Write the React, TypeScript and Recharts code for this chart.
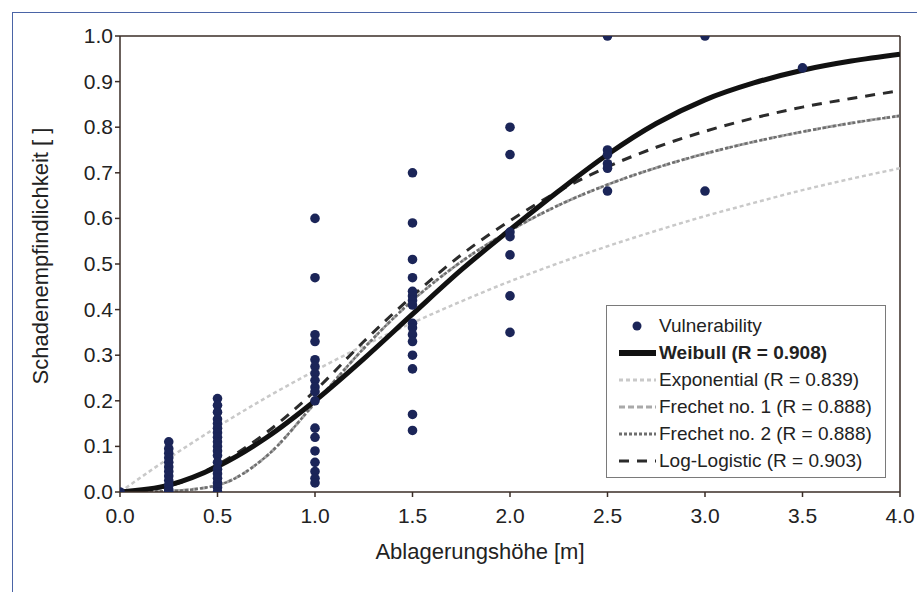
import { ComposedChart, Line, Scatter, XAxis, YAxis, ReferenceLine, Label } from 'recharts';

// Ablagerungshöhe sample points for the fitted curves
const curveX = [0, 0.25, 0.5, 0.75, 1, 1.25, 1.5, 1.75, 2, 2.25, 2.5, 2.75, 3, 3.25, 3.5, 3.75, 4];
const weibull = [0, 0.015, 0.056, 0.119, 0.2, 0.292, 0.39, 0.487, 0.575, 0.66, 0.74, 0.808, 0.86, 0.897, 0.925, 0.945, 0.96];
const exponential = [0, 0.074, 0.143, 0.207, 0.266, 0.321, 0.371, 0.418, 0.462, 0.502, 0.539, 0.573, 0.605, 0.634, 0.662, 0.687, 0.71];
const frechet1 = [0, 0.002, 0.015, 0.078, 0.195, 0.315, 0.42, 0.505, 0.573, 0.629, 0.674, 0.711, 0.742, 0.768, 0.79, 0.809, 0.825];
const frechet2 = [0, 0.002, 0.015, 0.078, 0.195, 0.315, 0.42, 0.505, 0.573, 0.629, 0.674, 0.711, 0.742, 0.768, 0.79, 0.809, 0.825];
const logLogistic = [0, 0.013, 0.06, 0.13, 0.222, 0.33, 0.43, 0.52, 0.595, 0.66, 0.713, 0.756, 0.791, 0.82, 0.844, 0.863, 0.88];

// observed vulnerability, grouped by deposit height
const obsHeights = [0, 0.25, 0.5, 1, 1.5, 2, 2.5, 3, 3.5];
const obsValues = [
  [0],
  [0.11, 0.095, 0.085, 0.075, 0.065, 0.055, 0.045, 0.035, 0.025, 0.015, 0.005, 0],
  [0.205, 0.19, 0.175, 0.16, 0.15, 0.14, 0.13, 0.12, 0.11, 0.1, 0.09, 0.08, 0.065, 0.05, 0.04, 0.03, 0.02, 0.01, 0],
  [0.6, 0.47, 0.345, 0.33, 0.29, 0.275, 0.26, 0.245, 0.23, 0.22, 0.2, 0.14, 0.12, 0.09, 0.065, 0.045, 0.03, 0.02],
  [0.7, 0.59, 0.51, 0.47, 0.44, 0.43, 0.42, 0.41, 0.37, 0.36, 0.345, 0.33, 0.3, 0.27, 0.17, 0.135],
  [0.8, 0.74, 0.57, 0.56, 0.52, 0.43, 0.35],
  [1, 0.75, 0.74, 0.72, 0.71, 0.66],
  [1, 0.66],
  [0.93],
];

const xTicks = [0, 0.5, 1, 1.5, 2, 2.5, 3, 3.5, 4];
const yTicks = [0, 0.1, 0.2, 0.3, 0.4, 0.5, 0.6, 0.7, 0.8, 0.9, 1];

const series = [
  { key: 'exponential', name: 'Exponential (R = 0.839)', color: '#c9c9c9', width: 2.5, dash: '4 3', bold: false },
  { key: 'frechet1', name: 'Frechet no. 1 (R = 0.888)', color: '#a9a9a9', width: 3, dash: '6 3', bold: false },
  { key: 'frechet2', name: 'Frechet no. 2 (R = 0.888)', color: '#6e6e6e', width: 2.5, dash: '3 2', bold: false },
  { key: 'logLogistic', name: 'Log-Logistic (R = 0.903)', color: '#2b2b2b', width: 3, dash: '10 8', bold: false },
  { key: 'weibull', name: 'Weibull (R = 0.908)', color: '#111111', width: 5, dash: undefined, bold: true },
];

const curveData = curveX.map((x, i) => ({
  x,
  weibull: weibull[i],
  exponential: exponential[i],
  frechet1: frechet1[i],
  frechet2: frechet2[i],
  logLogistic: logLogistic[i],
}));

const obsData = obsHeights.flatMap((x, i) => obsValues[i].map(y => ({ x, y })));

const font = '"Liberation Sans", Arial, sans-serif';
const navy = '#1b2558';
const tickColor = '#222';

const legendOrder = ['weibull', 'exponential', 'frechet1', 'frechet2', 'logLogistic'];

const renderXTick = (props: any) => (
  <text x={props.x} y={props.y} dy={24} textAnchor="middle" fontSize={21} fill={tickColor} fontFamily={font}>
    {Number(props.payload.value).toFixed(1)}
  </text>
);

const renderYTick = (props: any) => (
  <text x={props.x} y={props.y} dy={7} textAnchor="end" fontSize={21} fill={tickColor} fontFamily={font}>
    {Number(props.payload.value).toFixed(1)}
  </text>
);

function ChartLegend() {
  return (
    <div
      style={{
        position: 'absolute',
        left: 606,
        top: 305,
        width: 280,
        height: 173,
        border: '1px solid #7a7a7a',
        background: '#fff',
        fontFamily: font,
        fontSize: 19,
        color: '#222',
        boxSizing: 'border-box',
        paddingTop: 6,
        whiteSpace: 'nowrap',
      }}
    >
      <div style={{ height: 27, display: 'flex', alignItems: 'center' }}>
        <svg width={48} height={12} style={{ marginLeft: 4 }}>
          <circle cx={26} cy={6} r={4.5} fill={navy} />
        </svg>
        <span>Vulnerability</span>
      </div>
      {legendOrder.map(k => {
        const s = series.find(d => d.key === k)!;
        return (
          <div key={k} style={{ height: 27, display: 'flex', alignItems: 'center' }}>
            <svg width={48} height={12} style={{ marginLeft: 4 }}>
              <line x1={8} x2={45} y1={6} y2={6} stroke={s.color} strokeWidth={s.bold ? 6 : 3} strokeDasharray={s.dash} />
            </svg>
            <span style={{ fontWeight: s.bold ? 'bold' : 'normal' }}>{s.name}</span>
          </div>
        );
      })}
    </div>
  );
}

export default function App() {
  return (
    <div style={{ position: 'absolute', left: 0, top: 0, width: 917, height: 592, background: '#fff', overflow: 'hidden' }}>
      <div
        style={{
          position: 'absolute',
          left: 12,
          top: 12,
          width: 905,
          height: 580,
          borderLeft: '1.5px solid #4a64a6',
          borderTop: '1.5px solid #4a64a6',
          boxSizing: 'border-box',
        }}
      />
      <div style={{ position: 'absolute', left: 0, top: 0 }}>
        <ComposedChart
          width={917}
          height={592}
          data={curveData}
          margin={{ top: 36, right: 17, left: 0, bottom: 0 }}
          style={{ fontFamily: font }}
        >
          <XAxis
            type="number"
            dataKey="x"
            domain={[0, 4]}
            ticks={xTicks}
            height={100}
            stroke="#3a2c26"
            strokeWidth={1.5}
            tickSize={5}
            tick={renderXTick}
            allowDataOverflow
          >
            <Label
              content={() => (
                <text x={480} y={559} textAnchor="middle" fontSize={22} fill="#222" fontFamily={font}>
                  Ablagerungshöhe [m]
                </text>
              )}
            />
          </XAxis>
          <YAxis
            type="number"
            domain={[0, 1]}
            ticks={yTicks}
            width={120}
            stroke="#3a2c26"
            strokeWidth={1.5}
            tickSize={5}
            tick={renderYTick}
            allowDataOverflow
          >
            <Label
              content={() => (
                <text
                  x={48}
                  y={256}
                  textAnchor="middle"
                  fontSize={22}
                  fill="#222"
                  fontFamily={font}
                  transform="rotate(-90 48 256)"
                >
                  Schadenempfindlichkeit [ ]
                </text>
              )}
            />
          </YAxis>
          <ReferenceLine y={1} stroke="#3a2c26" strokeWidth={1.5} />
          <ReferenceLine x={4} stroke="#3a2c26" strokeWidth={1.5} />
          {series.map(s => (
            <Line
              key={s.key}
              dataKey={s.key}
              type="monotone"
              stroke={s.color}
              strokeWidth={s.width}
              strokeDasharray={s.dash}
              dot={false}
              activeDot={false}
              isAnimationActive={false}
            />
          ))}
          <Scatter
            data={obsData}
            dataKey="y"
            fill={navy}
            shape={(p: any) => <circle cx={p.cx} cy={p.cy} r={4.8} fill={navy} />}
            isAnimationActive={false}
          />
        </ComposedChart>
      </div>
      <ChartLegend />
    </div>
  );
}
